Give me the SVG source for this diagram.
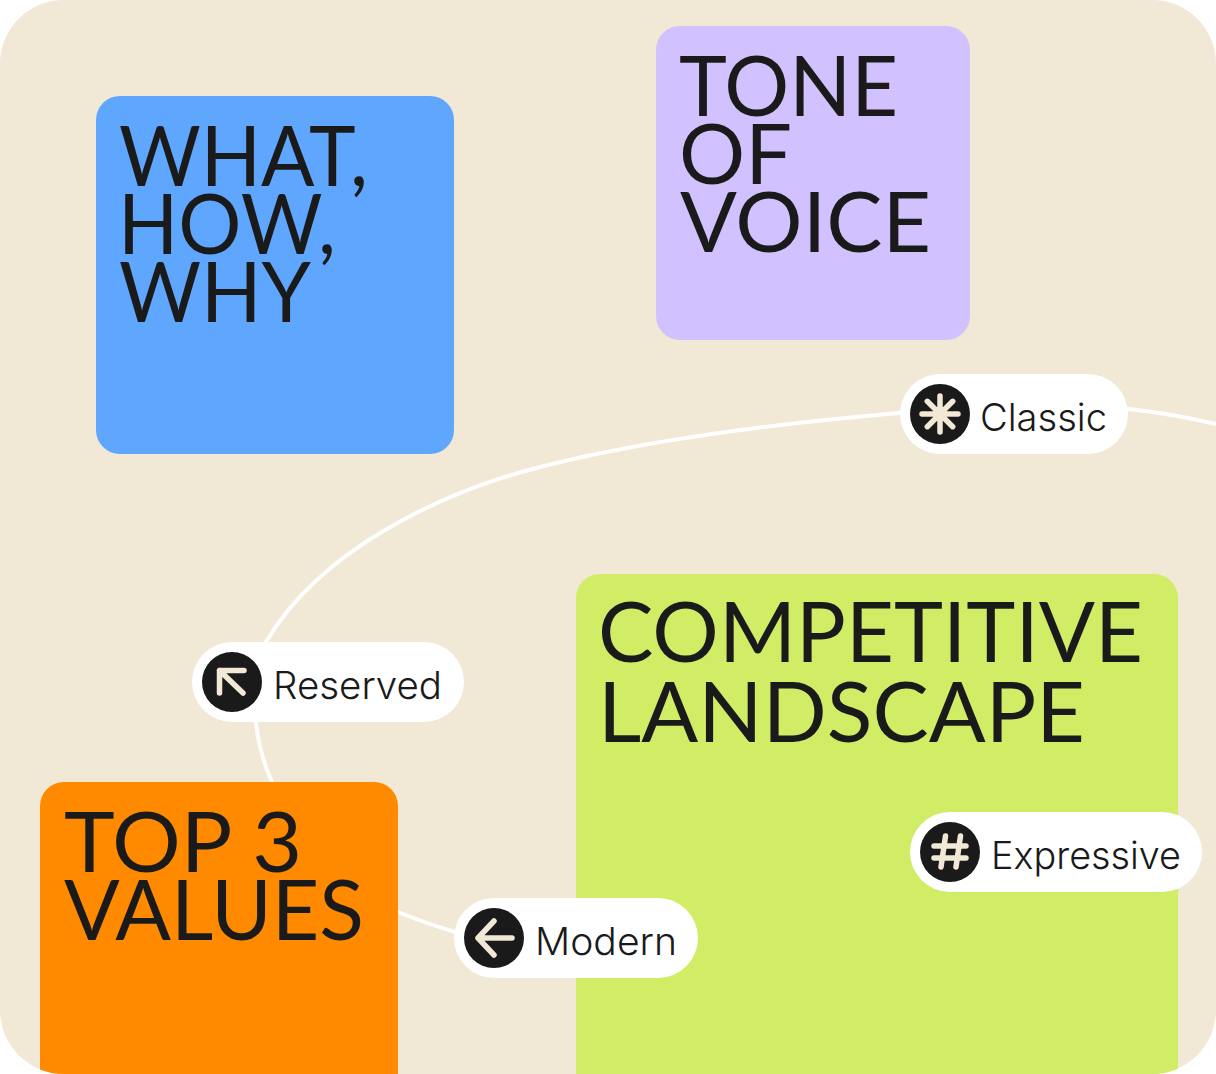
<svg xmlns="http://www.w3.org/2000/svg" width="1216" height="1074" viewBox="0 0 1216 1074">
<style>
.h{font-family:"Lato","Inter","Liberation Sans",sans-serif;font-size:83px;fill:#1a1a1a;font-weight:400}
.l{font-family:"Inter","Liberation Sans",sans-serif;font-size:38px;fill:#1a1a1a;font-weight:350}
.p{fill:#fff}
.d{fill:#1a1a1a}
.i{fill:none;stroke:#f1e8d5;stroke-width:5.5;stroke-linecap:round;stroke-linejoin:round}
</style>
<defs><clipPath id="c"><rect width="1216" height="1074" rx="64"/></clipPath></defs>
<rect width="1216" height="1074" fill="#fff"/>
<g clip-path="url(#c)">
<rect id="background" width="1216" height="1074" fill="#f1e8d5"/>
<g id="connectors"><path d="M1216 424C1185 417 1150 411 1128 409C1050 404 960 408 899 413C760 425 640 442 544 466C440 492 320 550 266 642C246 685 255 745 272 782C300 850 340 890 398 912C420 921 435 926 455 932" fill="none" stroke="#fff" stroke-width="4"/></g>
<g id="what"><rect x="96" y="96" width="358" height="358" rx="24" fill="#5fa6ff"/>
<text class="h" x="119" y="186" textLength="249" lengthAdjust="spacingAndGlyphs">WHAT,</text>
<text class="h" x="118" y="254" textLength="218" lengthAdjust="spacingAndGlyphs">HOW,</text>
<text class="h" x="119" y="322" textLength="192" lengthAdjust="spacingAndGlyphs">WHY</text></g>
<g id="tone"><rect x="656" y="26" width="314" height="314" rx="24" fill="#d1c1ff"/>
<text class="h" x="679" y="116" textLength="219" lengthAdjust="spacingAndGlyphs">TONE</text>
<text class="h" x="679" y="184" textLength="113" lengthAdjust="spacingAndGlyphs">OF</text>
<text class="h" x="680" y="252" textLength="251" lengthAdjust="spacingAndGlyphs">VOICE</text></g>
<g id="competitive"><rect x="576" y="574" width="602" height="560" rx="24" fill="#d0ed65"/>
<text class="h" x="598" y="662" textLength="545" lengthAdjust="spacingAndGlyphs">COMPETITIVE</text>
<text class="h" x="598" y="742" textLength="487" lengthAdjust="spacingAndGlyphs">LANDSCAPE</text></g>
<g id="values"><rect x="40" y="782" width="358" height="358" rx="24" fill="#ff8a00"/>
<text class="h" x="64" y="872" textLength="238" lengthAdjust="spacingAndGlyphs">TOP 3</text>
<text class="h" x="64" y="940" textLength="300" lengthAdjust="spacingAndGlyphs">VALUES</text></g>
<g id="classic"><rect class="p" x="900" y="374" width="228" height="80" rx="40"/><circle class="d" cx="940" cy="414" r="30"/>
<path class="i" d="M940 396V432M922 414H958M927.3 401.3L952.7 426.7M952.7 401.3L927.3 426.7"/>
<text class="l" x="980" y="431" textLength="127" lengthAdjust="spacingAndGlyphs">Classic</text></g>
<g id="reserved"><rect class="p" x="192" y="642" width="272" height="80" rx="40"/><circle class="d" cx="232" cy="682" r="30"/>
<path class="i" d="M243 693L219.500 670.500M219.500 693V670.500H244"/>
<text class="l" x="273" y="699" textLength="169" lengthAdjust="spacingAndGlyphs">Reserved</text></g>
<g id="modern"><rect class="p" x="454" y="898" width="244" height="80" rx="40"/><circle class="d" cx="494" cy="938" r="30"/>
<path class="i" d="M512 938H478M494 921L478 938L494 955"/>
<text class="l" x="535" y="955" textLength="142" lengthAdjust="spacingAndGlyphs">Modern</text></g>
<g id="expressive"><rect class="p" x="910" y="812" width="292" height="80" rx="40"/><circle class="d" cx="950" cy="852" r="30"/>
<path class="i" d="M934 846H966M934 858H966M945.500 836L941 867M960.500 836L956 867"/>
<text class="l" x="991" y="869" textLength="190" lengthAdjust="spacingAndGlyphs">Expressive</text></g>
</g>
</svg>
